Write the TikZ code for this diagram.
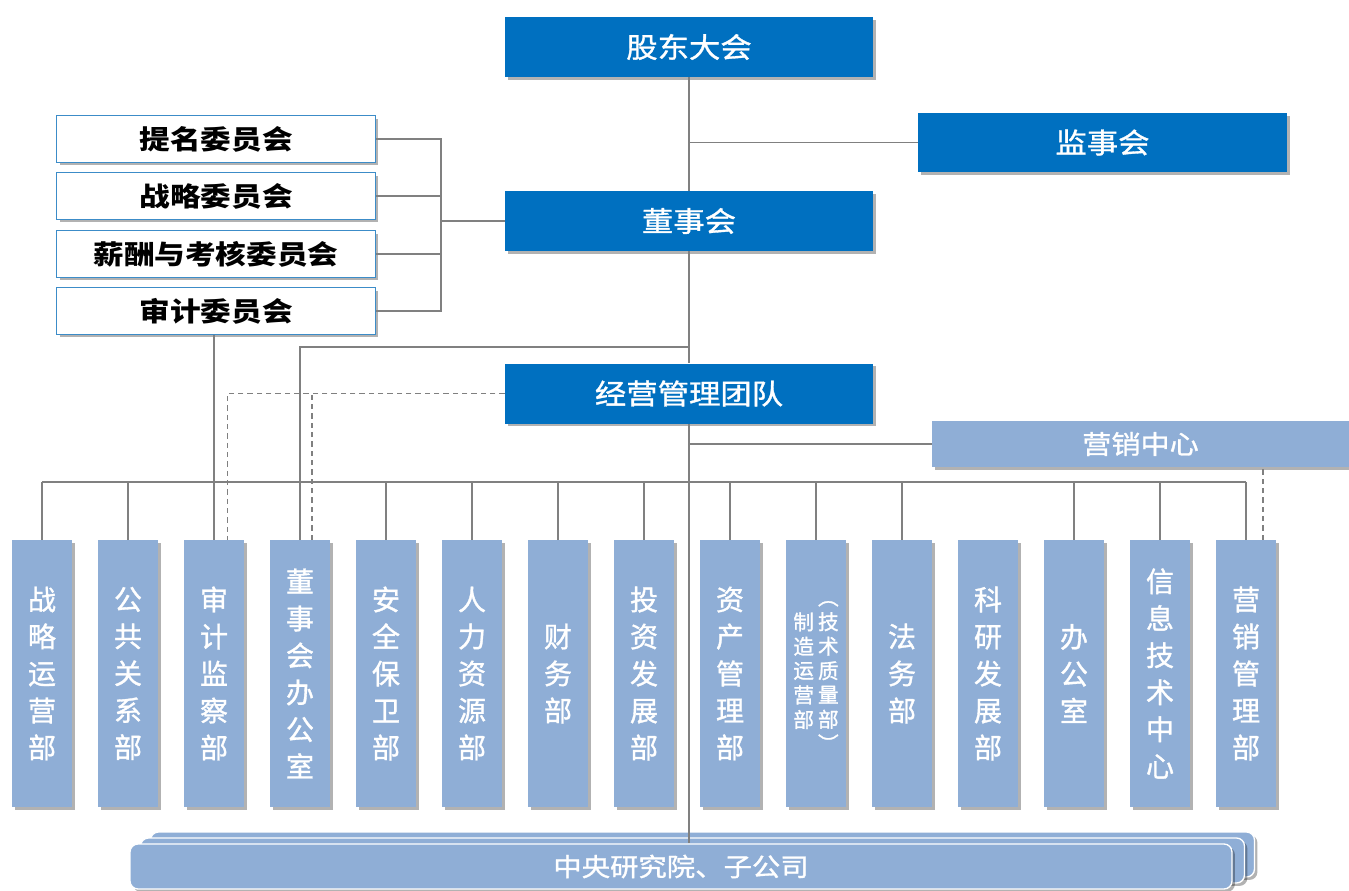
\documentclass[tikz,border=0pt]{standalone}
\usepackage{fontspec}
\newfontfamily\cjk{Noto Sans CJK SC}
\newfontfamily\cjkw{Noto Sans CJK SC}[FakeStretch=1.12,FakeBold=1.2]
\newfontfamily\cjkc{Noto Sans CJK SC}[FakeStretch=1.15]
\newfontfamily\cjkv{Noto Sans CJK SC}[FakeBold=1.2]
\usetikzlibrary{shadows}
\definecolor{dblue}{RGB}{0,112,192}
\definecolor{lblue}{RGB}{143,174,214}
\definecolor{lgray}{RGB}{128,128,128}
\definecolor{cborder}{RGB}{60,140,200}
\begin{document}
\begin{tikzpicture}[x=0.75pt,y=-0.75pt,
  shad/.style={drop shadow={shadow xshift=2.2pt,shadow yshift=-2.2pt,fill=black,opacity=0.3}},
  topbox/.style={shad,fill=dblue,text=white,inner sep=0pt,font=\cjkw\fontsize{21}{25}\selectfont},
  combox/.style={shad,fill=white,draw=cborder,line width=1.2pt,minimum width=239pt,minimum height=35pt,inner sep=0pt,font=\cjkc\bfseries\fontsize{20}{23}\selectfont},
  vbox/.style={shad,fill=lblue,text=white,minimum width=45pt,minimum height=200pt,inner sep=0pt,align=center,font=\cjkv\fontsize{21}{27.75}\selectfont},
  layer/.style={shad,fill=lblue,draw=white,line width=1pt,rounded corners=6pt,minimum width=828pt,minimum height=33.75pt,inner sep=0pt,text=white,font=\cjkw\fontsize{19}{23}\selectfont},
  conn/.style={draw=lgray,line width=0.9pt},
  dconn/.style={conn,dash pattern=on 4pt off 3pt},
]
\useasboundingbox (0,0) rectangle (1349,891);

% top level boxes
\node[topbox,minimum width=276pt,minimum height=45pt] (gd) at (689,47) {股东大会};
\node[topbox,minimum width=276.75pt,minimum height=44.25pt] (js) at (1102.5,142.5) {监事会};
\node[topbox,minimum width=276pt,minimum height=45pt] (ds) at (689,221) {董事会};
\node[topbox,minimum width=276pt,minimum height=45pt] (jy) at (689,393.5) {经营管理团队};
\node[topbox,fill=lblue,minimum width=312.75pt,minimum height=34.5pt,font=\cjkw\fontsize{19.5}{23}\selectfont] (yx) at (1140.5,444) {营销中心};

% committees
\node[combox] (c1) at (216,139) {提名委员会};
\node[combox] (c2) at (216,196) {战略委员会};
\node[combox] (c3) at (216,254) {薪酬与考核委员会};
\node[combox] (c4) at (216,311) {审计委员会};

% departments
\foreach \i/\t in {1/{战\\略\\运\\营\\部},2/{公\\共\\关\\系\\部},3/{审\\计\\监\\察\\部},4/{董\\事\\会\\办\\公\\室},5/{安\\全\\保\\卫\\部},6/{人\\力\\资\\源\\部},7/{财\\务\\部},8/{投\\资\\发\\展\\部},9/{资\\产\\管\\理\\部},11/{法\\务\\部},12/{科\\研\\发\\展\\部},13/{办\\公\\室},14/{信\\息\\技\\术\\中\\心},15/{营\\销\\管\\理\\部}}
  \node[vbox] (b\i) at ({42+86*(\i-1)},673.5) {\t};
\node[vbox] (b10) at (816,673.5) {\fontsize{15.5}{18}\selectfont
  \begin{tabular}[c]{@{}c@{}}制\\造\\运\\营\\部\end{tabular}\hspace{3pt}%
  \begin{tabular}[c]{@{}c@{}}︵\\技\\术\\质\\量\\部\\︶\end{tabular}};

% stacked bottom box
\node[layer] (st3) at (702.5,854.5) {};
\node[layer] (st2) at (692.5,860.5) {};
\node[layer,minimum width=826.5pt] (st1) at (681,866.5) {中央研究院、子公司};

% connectors
\coordinate (cbus) at (441,221);
\coordinate (bus) at (689,482);
\coordinate (dsb) at (689,347);
\draw[conn] (gd.south) -- (ds.north);
\draw[conn] (js.west) -- (js.west -| gd.south);
\draw[conn] (c1.east) -- (c1.east -| cbus) -- (c4.east -| cbus) -- (c4.east);
\draw[conn] (c2.east) -- (c2.east -| cbus);
\draw[conn] (c3.east) -- (c3.east -| cbus);
\draw[conn] (cbus) -- (ds.west);
\draw[conn] (ds.south) -- (jy.north);
\draw[conn] (dsb) -| (b4.north);
\draw[conn] (b3.north) -- (b3.north |- c4.south);
\draw[dconn] (jy.west) -| ([xshift=10pt]b3.north);
\draw[dconn] ([xshift=9pt]b4.north) -- ([xshift=9pt]b4.north |- jy.west);
\draw[conn] (jy.south) -- (jy.south |- st1.north);
\draw[conn] (yx.west) -- (yx.west -| jy.south);
\draw[conn] (b1.north |- bus) -- (b15.north |- bus);
\foreach \i in {1,2,3,4,5,6,7,8,9,10,11,13,14,15}
  \draw[conn] (b\i.north) -- (b\i.north |- bus);
\draw[dconn] ([xshift=12.75pt]b15.north) -- ([xshift=12.75pt]b15.north |- yx.south);
\end{tikzpicture}
\end{document}
